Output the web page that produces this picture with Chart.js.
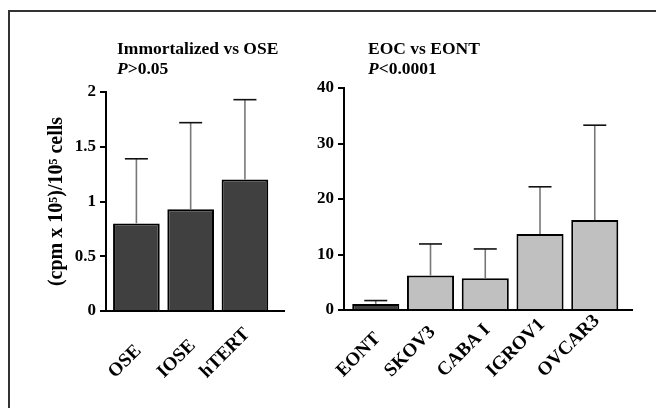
<!DOCTYPE html>
<html>
<head>
<meta charset="utf-8">
<script src="https://cdn.jsdelivr.net/npm/chart.js@4.4.1/dist/chart.umd.min.js"></script>
<style>
  html, body { margin: 0; padding: 0; background: #fff; overflow: hidden; }
  #page { position: relative; width: 656px; height: 408px; overflow: hidden; }
  #frame { position: absolute; left: 8px; top: 10px; width: 700px; height: 440px;
           border-left: 2px solid #333; border-top: 2px solid #333; }
  canvas { position: absolute; top: 0; }
</style>
</head>
<body>
<div id="page">
  <div id="frame"></div>
  <canvas id="oseChart" width="300" height="408" style="left:0"></canvas>
  <canvas id="eocChart" width="356" height="408" style="left:300px"></canvas>
</div>
<script>
// left panel: normal / immortalized surface epithelium
const oseLabels = ['OSE', 'IOSE', 'hTERT'];
const oseMeans = [0.8, 0.93, 1.2];
const oseSd = [0.59, 0.79, 0.73];
const oseTicks = [0, 0.5, 1, 1.5, 2];

// right panel: EONT vs ovarian cancer lines
const eocLabels = ['EONT', 'SKOV3', 'CABA I', 'IGROV1', 'OVCAR3'];
const eocMeans = [1.1, 6.2, 5.7, 13.7, 16.2];
const eocSd = [0.6, 5.7, 5.3, 8.5, 17.1];
const eocTicks = [0, 10, 20, 30, 40];

const FONT = "'Liberation Serif', 'Times New Roman', serif";
const DARK = '#404040';
const LIGHT = '#c0c0c0';

// error bars (upper only), drawn from the dataset through the scales
const errorBars = {
    id: 'errorBars',
    afterDatasetsDraw(chart) {
        const ds = chart.data.datasets[0];
        const xs = chart.scales.x, ys = chart.scales.y;
        const ctx = chart.ctx;
        ctx.save();
        ds.data.forEach((p, i) => {
            const x = xs.getPixelForValue(p.x);
            const y0 = ys.getPixelForValue(p.y);
            const y1 = ys.getPixelForValue(p.y + ds.sd[i]);
            ctx.strokeStyle = '#777';
            ctx.lineWidth = 1.6;
            ctx.beginPath();
            ctx.moveTo(x, y0);
            ctx.lineTo(x, y1);
            ctx.stroke();
            ctx.strokeStyle = '#111';
            ctx.beginPath();
            ctx.moveTo(x - 11.5, y1);
            ctx.lineTo(x + 11.5, y1);
            ctx.stroke();
        });
        ctx.restore();
    }
};

// rotated category labels and panel headings
const panelText = {
    id: 'panelText',
    afterDraw(chart, args, opts) {
        const ctx = chart.ctx;
        const xs = chart.scales.x;
        const area = chart.chartArea;
        ctx.save();
        ctx.fillStyle = '#000';
        ctx.font = 'bold 19px ' + FONT;
        ctx.textAlign = 'left';
        ctx.textBaseline = 'middle';
        opts.labels.forEach((lab, i) => {
            const x = xs.getPixelForValue(i);
            const w = ctx.measureText(lab).width;
            ctx.save();
            ctx.translate(x - w * Math.SQRT1_2 + 2, area.bottom + 64);
            ctx.rotate(-Math.PI / 4);
            ctx.fillText(lab, 0, 0);
            ctx.restore();
        });

        ctx.textBaseline = 'alphabetic';
        ctx.font = 'bold 17.5px ' + FONT;
        ctx.fillText(opts.title, opts.titleX, 54);
        ctx.font = 'italic bold 17.5px ' + FONT;
        ctx.fillText('P', opts.titleX, 74);
        const pw = ctx.measureText('P').width;
        ctx.font = 'bold 17.5px ' + FONT;
        ctx.fillText(opts.pval, opts.titleX + pw, 74);
        ctx.restore();
    }
};

const makeChart = (id, labels, means, sd, ticks, colors, o) => {
    const ctx = document.getElementById(id).getContext('2d');
    return new Chart(ctx, {
        type: 'bar',
        data: {
            datasets: [{
                data: labels.map((c, i) => ({ x: i, y: means[i] })),
                sd: sd,
                backgroundColor: colors,
                borderColor: '#000',
                borderWidth: 2,
                borderSkipped: 'bottom',
                barPercentage: 0.86,
                categoryPercentage: 1,
            }]
        },
        options: {
            responsive: false,
            animation: false,
            devicePixelRatio: 1,
            layout: { padding: o.padding },
            plugins: {
                legend: { display: false },
                tooltip: { enabled: false },
                panelText: { labels: labels, title: o.title, pval: o.pval, titleX: o.titleX },
            },
            scales: {
                x: {
                    type: 'linear',
                    offset: false,
                    min: o.xMin,
                    max: o.xMax,
                    afterBuildTicks: (s) => { s.ticks = labels.map((c, i) => ({ value: i })); },
                    afterFit: (s) => { s.height = o.xHeight; },
                    grid: { display: false, offset: false },
                    border: { display: true, color: '#000', width: 2 },
                    ticks: { display: false },
                },
                y: {
                    min: ticks[0],
                    max: ticks[ticks.length - 1],
                    afterBuildTicks: (s) => { s.ticks = ticks.map(v => ({ value: v })); },
                    afterFit: (s) => { s.width = o.yWidth; },
                    grid: { display: true, drawOnChartArea: false, drawTicks: true, tickLength: 6, color: '#000', lineWidth: 2 },
                    border: { display: true, color: '#000', width: 2 },
                    ticks: {
                        color: '#000',
                        padding: 4,
                        font: { family: FONT, size: 17, weight: 'bold' },
                        callback: (v) => String(v),
                    },
                    title: o.yTitle ? {
                        display: true,
                        text: o.yTitle,
                        color: '#000',
                        padding: 0,
                        font: { family: FONT, size: 20, weight: 'bold' },
                    } : { display: false },
                },
            },
        },
        plugins: [errorBars, panelText],
    });
};

makeChart('oseChart', oseLabels, oseMeans, oseSd, oseTicks, oseLabels.map(() => DARK), {
    padding: { left: 45, top: 92, right: 16, bottom: 0 },
    yWidth: 61, xHeight: 97, xMin: -0.56, xMax: 2.72,
    title: 'Immortalized vs OSE', pval: '>0.05', titleX: 117,
    yTitle: '(cpm x 10\u2075)/10\u2075 cells',
});

makeChart('eocChart', eocLabels, eocMeans, eocSd, eocTicks, eocLabels.map((c, i) => i === 0 ? DARK : LIGHT), {
    padding: { left: 0, top: 88, right: 24, bottom: 0 },
    yWidth: 44, xHeight: 98, xMin: -0.58, xMax: 4.68,
    title: 'EOC vs EONT', pval: '<0.0001', titleX: 68,
    yTitle: null,
});
</script>
</body>
</html>
